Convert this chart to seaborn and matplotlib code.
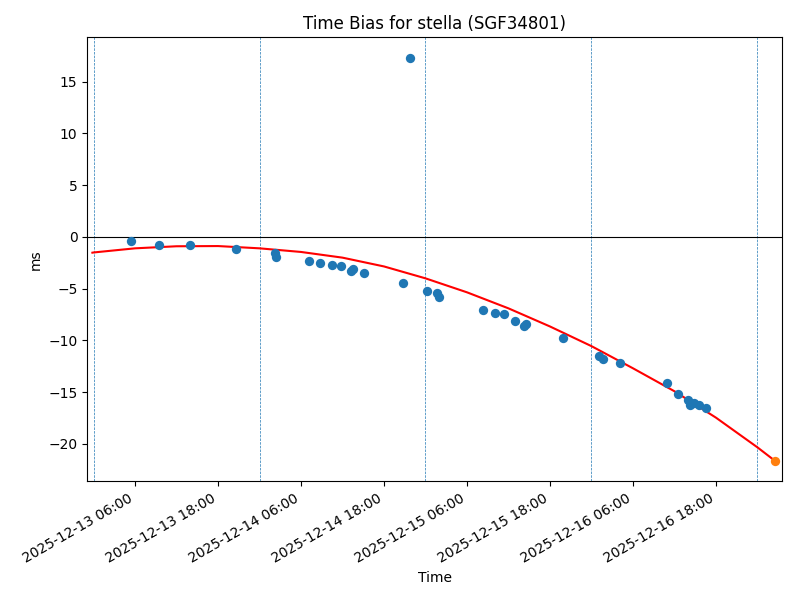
import pandas as pd
import numpy as np
import matplotlib
matplotlib.use("Agg")
import matplotlib.pyplot as plt
import matplotlib.dates as mdates
import seaborn as sns

# Measured time bias (ms) for each observation
obsTimes = [
    "2025-12-13 05:29", "2025-12-13 09:24", "2025-12-13 13:53", "2025-12-13 20:40",
    "2025-12-14 02:10", "2025-12-14 02:22", "2025-12-14 07:05", "2025-12-14 08:49",
    "2025-12-14 10:33", "2025-12-14 11:51", "2025-12-14 13:13", "2025-12-14 13:30",
    "2025-12-14 15:08", "2025-12-14 20:49", "2025-12-14 21:47", "2025-12-15 00:10",
    "2025-12-15 01:44", "2025-12-15 01:59", "2025-12-15 08:23", "2025-12-15 10:05",
    "2025-12-15 11:17", "2025-12-15 12:58", "2025-12-15 14:16", "2025-12-15 14:34",
    "2025-12-15 19:49", "2025-12-16 01:07", "2025-12-16 01:39", "2025-12-16 04:11",
    "2025-12-16 10:58", "2025-12-16 12:35", "2025-12-16 13:59", "2025-12-16 14:12",
    "2025-12-16 14:51", "2025-12-16 15:30", "2025-12-16 16:31",
]
obsBias = [
    -0.39, -0.80, -0.80, -1.19,
    -1.58, -1.97, -2.35, -2.55,
    -2.74, -2.84, -3.32, -3.13,
    -3.52, -4.48, 17.33, -5.25,
    -5.45, -5.78, -7.10, -7.36,
    -7.49, -8.10, -8.65, -8.42,
    -9.81, -11.49, -11.84, -12.20,
    -14.14, -15.18, -15.80, -16.20,
    -16.05, -16.25, -16.55,
]

# Predicted bias at the next time
predTime = ["2025-12-17 02:34"]
predBias = [-21.65]

# Fitted trend curve, read every 6 hours
fitTimes = [
    "2025-12-12 23:50", "2025-12-13 00:00", "2025-12-13 06:00", "2025-12-13 12:00",
    "2025-12-13 18:00", "2025-12-14 00:00", "2025-12-14 06:00", "2025-12-14 12:00",
    "2025-12-14 18:00", "2025-12-15 00:00", "2025-12-15 06:00", "2025-12-15 12:00",
    "2025-12-15 18:00", "2025-12-16 00:00", "2025-12-16 06:00", "2025-12-16 12:00",
    "2025-12-16 18:00", "2025-12-17 00:00", "2025-12-17 02:34",
]
fitBias = [
    -1.52, -1.50, -1.10, -0.90,
    -0.88, -1.10, -1.45, -2.00,
    -2.85, -4.00, -5.35, -6.90,
    -8.65, -10.55, -12.69, -14.91,
    -17.46, -20.33, -21.65,
]

# Day boundaries
dayLines = ["2025-12-13", "2025-12-14", "2025-12-15", "2025-12-16", "2025-12-17"]

obsDf = pd.DataFrame({'time': pd.to_datetime(obsTimes), 'bias': obsBias})
predDf = pd.DataFrame({'time': pd.to_datetime(predTime), 'bias': predBias})
fitDf = pd.DataFrame({'time': pd.to_datetime(fitTimes), 'bias': fitBias})

fig, ax = plt.subplots(figsize=(8, 6), dpi=100)
fig.subplots_adjust(left=0.109, right=0.9775, top=0.938, bottom=0.198)

for d in dayLines:
    ax.axvline(pd.Timestamp(d), color='C0', linestyle='--', linewidth=0.5)
ax.axhline(0, color='black', linewidth=0.8)

sns.lineplot(data=fitDf, x='time', y='bias', color='red', linewidth=1.5, ax=ax)
sns.scatterplot(data=obsDf, x='time', y='bias', color='C0', s=45, linewidth=0, ax=ax, zorder=3)
sns.scatterplot(data=predDf, x='time', y='bias', color='C1', s=45, linewidth=0, ax=ax, zorder=3)

ax.set_xlim(pd.Timestamp("2025-12-12 23:05"), pd.Timestamp("2025-12-17 03:33"))
ax.set_ylim(-23.6, 19.3)
ax.xaxis.set_major_locator(mdates.HourLocator(byhour=[6, 18]))
ax.xaxis.set_major_formatter(mdates.DateFormatter('%Y-%m-%d %H:%M'))
plt.setp(ax.get_xticklabels(), rotation=30, ha='right')

ax.set_title("Time Bias for stella (SGF34801)")
ax.set_xlabel("Time")
ax.set_ylabel("ms")

plt.savefig("out.png", dpi=100)
